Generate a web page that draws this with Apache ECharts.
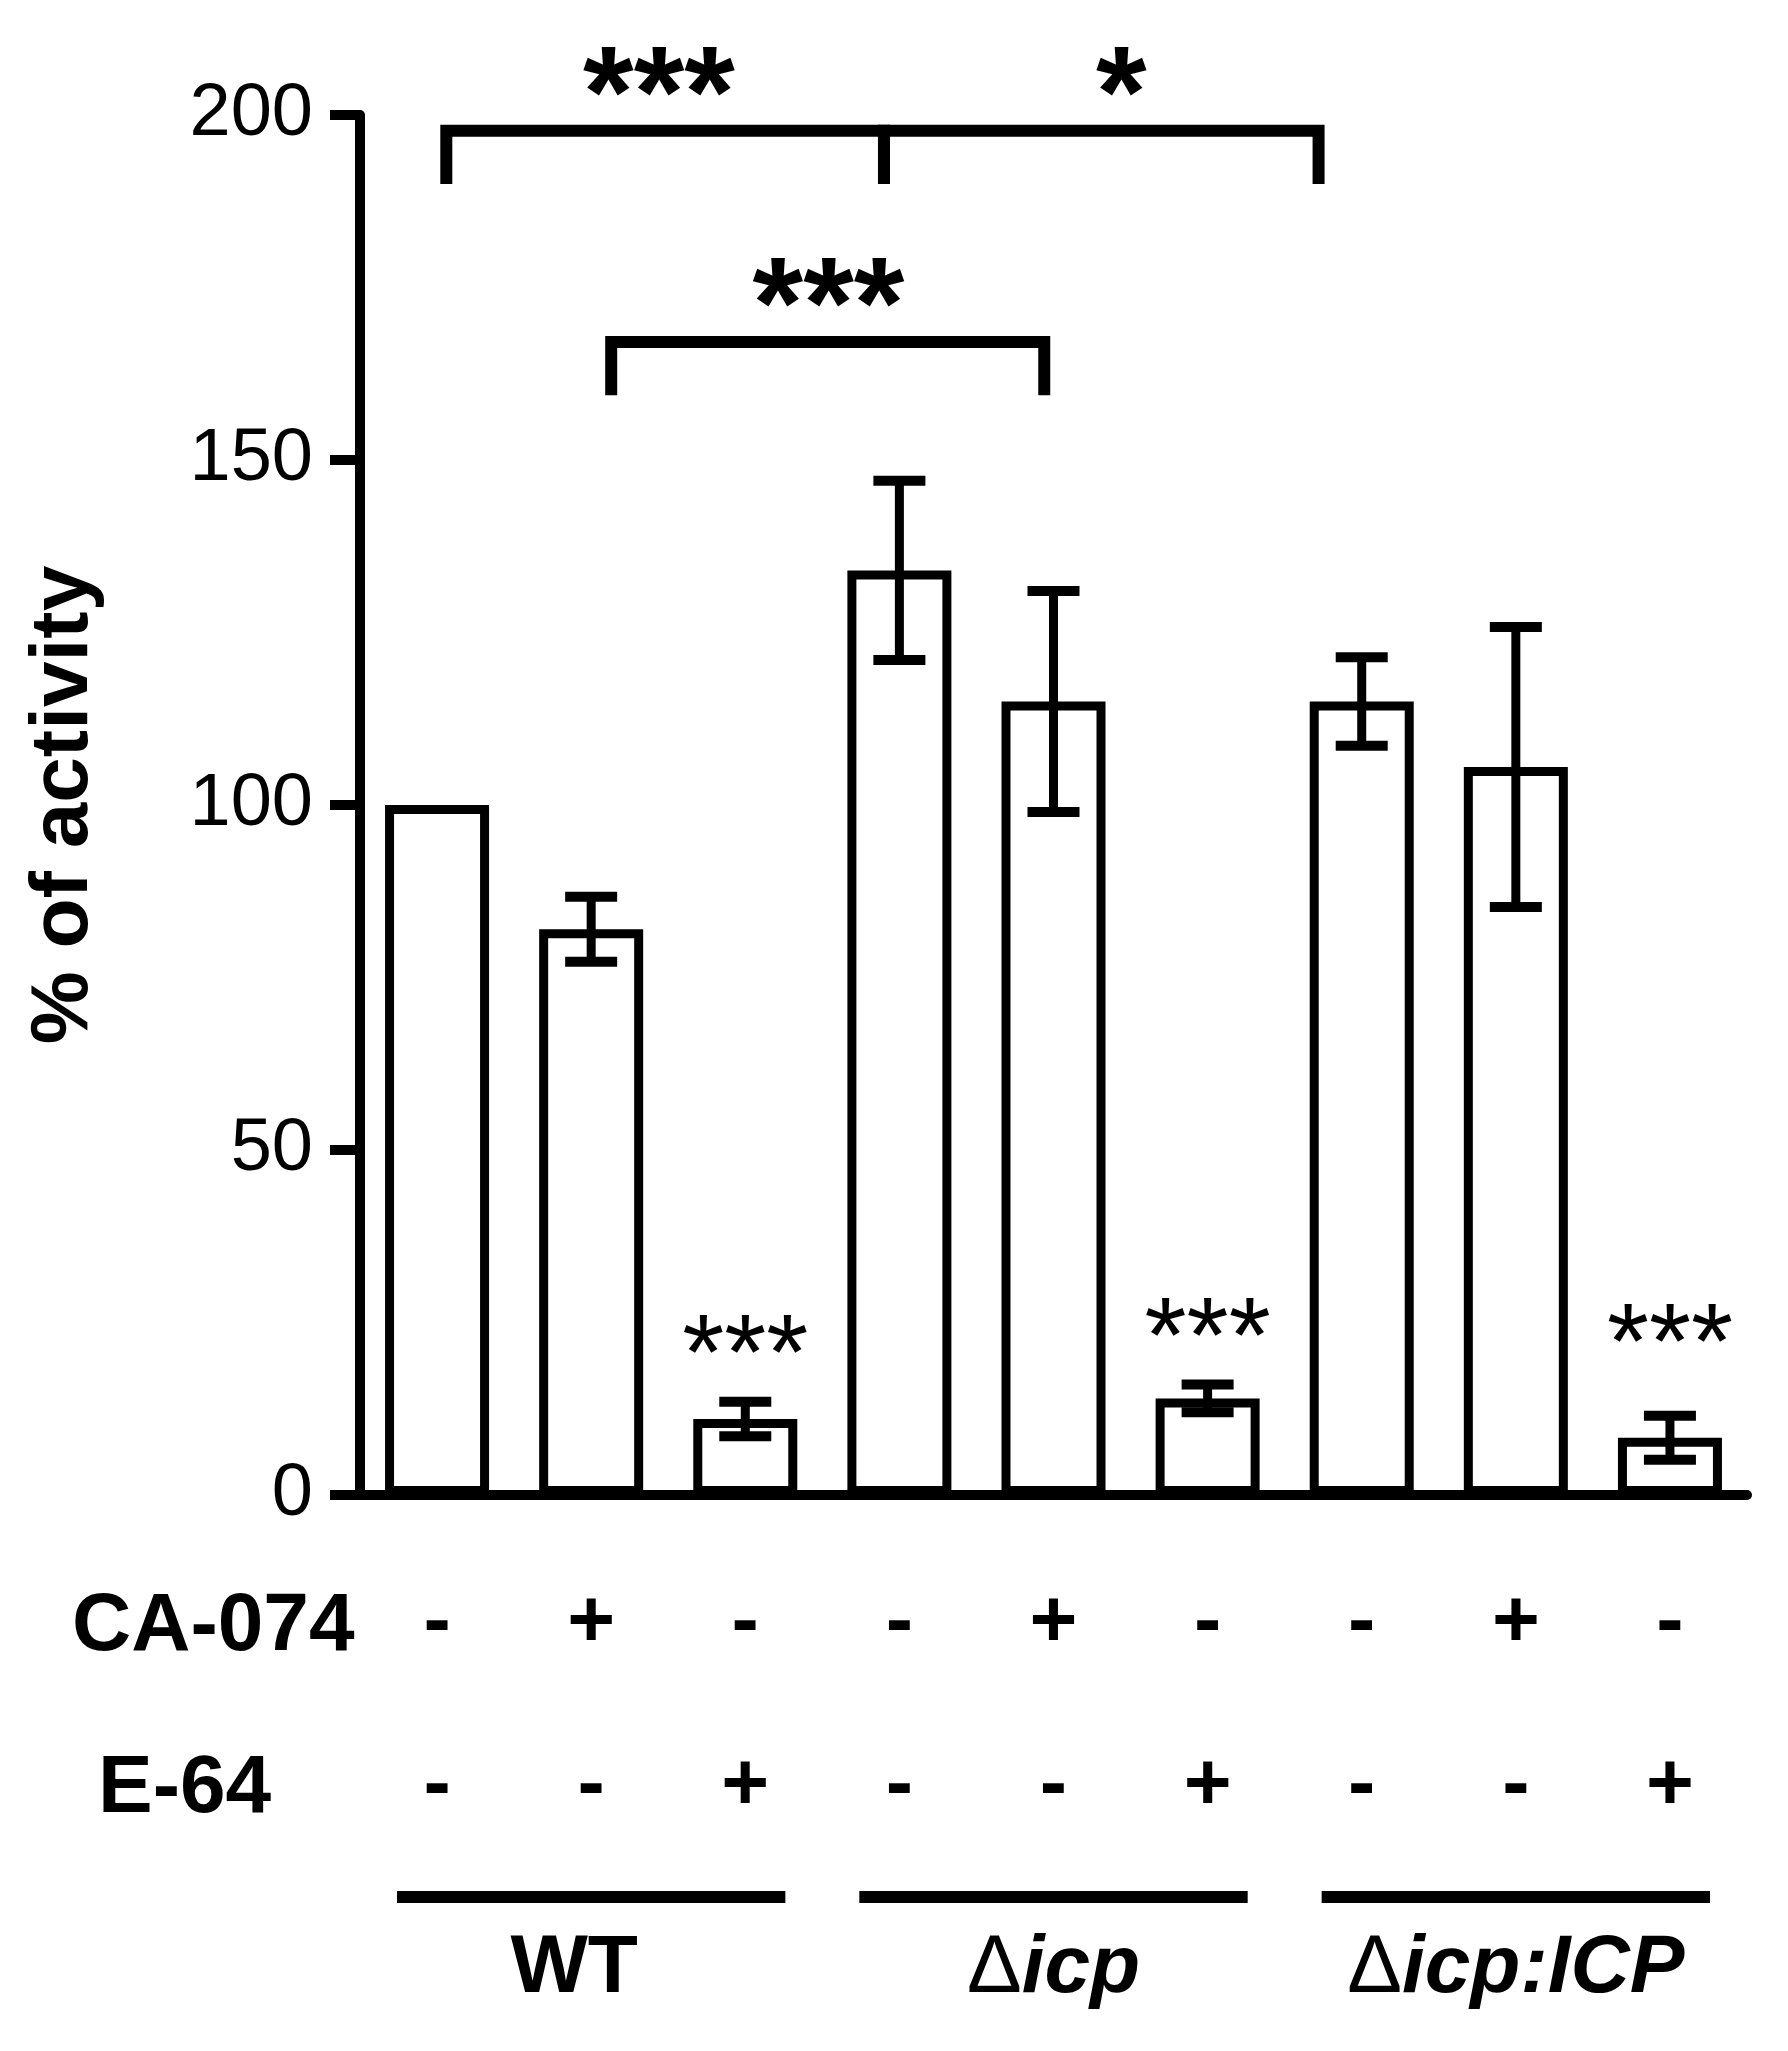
<!DOCTYPE html>
<html>
<head>
<meta charset="utf-8">
<script src="https://cdn.jsdelivr.net/npm/echarts@6/dist/echarts.min.js"></script>
<style>
  html, body { margin: 0; padding: 0; background: #fff; }
  #chart { width: 1788px; height: 2051px; }
</style>
</head>
<body>
<div id="chart"></div>
<script>
const FONT = '"Liberation Sans", Arial, Helvetica, sans-serif'

// strains and treatments, one bar each
const groups = ['WT', 'Δicp', 'Δicp:ICP']
const groupOfBar = [0, 0, 0, 1, 1, 1, 2, 2, 2]
const ca074 = ['-', '+', '-', '-', '+', '-', '-', '+', '-']
const e64 = ['-', '-', '+', '-', '-', '+', '-', '-', '+']

// % of activity (mean and error)
const activity = [100, 82, 11, 134, 115, 14, 115, 105.5, 8.3]
const sem = [0, 4.7, 2.5, 13, 16, 2, 6.4, 20.3, 3.2]
const yTicks = [0, 50, 100, 150, 200]

// stars above the E-64 bars (height in % units)
const sigBars = [2, 5, 8]
const sigText = ['***', '***', '***']
const sigLevel = [19.7, 22.2, 21.3]

// comparison brackets: ends in bar-index units, heights in % units
const bracketFrom = [0.06, 2.9, 1.13]
const bracketTo = [2.9, 5.72, 3.94]
const bracketTop = [197.7, 197.7, 167.1]
const bracketLeg = [190, 190, 159.4]
const bracketText = ['***', '*', '***']
const bracketTextAt = [1.44, 4.44, 2.54]

const categories = activity.map((v, i) => groups[groupOfBar[i]] + ' ' + ca074[i] + e64[i])

// first / last bar of each strain, for the lines under the sign rows
const groupSpans = groups.map((g, k) => {
  const idx = groupOfBar.map((gi, i) => (gi === k ? i : -1)).filter(i => i >= 0)
  return [idx[0], idx[idx.length - 1]]
})

const chart = echarts.init(document.getElementById('chart'))

const option = {
  animation: false,
  backgroundColor: '#fff',
  grid: { left: 360, right: 41, top: 115, bottom: 556, outerBoundsMode: 'none' },
  xAxis: [
    {
      type: 'category',
      data: categories,
      position: 'bottom',
      axisLine: { show: true, onZero: false, lineStyle: { color: '#000', width: 10 } },
      axisTick: { show: false },
      splitLine: { show: false },
      axisLabel: {
        interval: 0,
        margin: 47,
        formatter: (v, i) => `{s|${ca074[i]}}\n{s|${e64[i]}}`,
        rich: {
          s: { fontFamily: FONT, fontSize: 82, fontWeight: 'bold', lineHeight: 163, color: '#000' }
        }
      }
    },
    {
      // helper axis: bar index as a continuous value
      type: 'value',
      min: -0.5,
      max: 8.5,
      position: 'top',
      show: false
    },
    {
      type: 'category',
      data: groups,
      position: 'bottom',
      offset: 425,
      axisLine: { show: false },
      axisTick: { show: false },
      splitLine: { show: false },
      axisLabel: {
        interval: 0,
        margin: 8,
        formatter: v => (v.startsWith('Δ') ? `{d|Δ}{i|${v.slice(1)}}` : `{b|${v}}`),
        rich: {
          b: { fontFamily: FONT, fontSize: 82, fontWeight: 'bold', lineHeight: 82, color: '#000', padding: [0, 34, 0, 0] },
          d: { fontFamily: FONT, fontSize: 82, fontWeight: 'normal', lineHeight: 82, color: '#000' },
          i: { fontFamily: FONT, fontSize: 82, fontWeight: 'bold', fontStyle: 'italic', lineHeight: 82, color: '#000' }
        }
      }
    }
  ],
  yAxis: {
    type: 'value',
    min: yTicks[0],
    max: yTicks[yTicks.length - 1],
    interval: yTicks[1] - yTicks[0],
    name: '% of activity',
    nameLocation: 'middle',
    nameRotate: 90,
    nameGap: 255,
    nameTextStyle: { fontFamily: FONT, fontSize: 82, fontWeight: 'bold', color: '#000' },
    axisLine: { show: true, onZero: false, lineStyle: { color: '#000', width: 10 } },
    axisTick: { show: true, length: 30, lineStyle: { color: '#000', width: 10 } },
    axisLabel: { fontFamily: FONT, fontSize: 74, color: '#000', margin: 47 },
    splitLine: { show: false }
  },
  graphic: [
    { type: 'text', left: 72, top: 1586, style: { text: 'CA-074', font: `bold 82px ${FONT}`, fill: '#000' } },
    { type: 'text', left: 98, top: 1748, style: { text: 'E-64', font: `bold 82px ${FONT}`, fill: '#000' } }
  ],
  series: [
    {
      name: 'activity',
      type: 'bar',
      xAxisIndex: 0,
      yAxisIndex: 0,
      data: activity,
      barWidth: 104,
      silent: true,
      itemStyle: { color: '#fff', borderColor: '#000', borderWidth: 9 },
      z: 2
    },
    {
      name: 'error',
      type: 'custom',
      xAxisIndex: 0,
      yAxisIndex: 0,
      silent: true,
      clip: false,
      z: 3,
      data: activity.map((v, i) => [i, v - sem[i], v + sem[i]]).filter(d => d[2] > d[1]),
      renderItem: (params, api) => {
        const x = api.coord([api.value(0), 0])[0]
        const lo = api.coord([api.value(0), api.value(1)])[1]
        const hi = api.coord([api.value(0), api.value(2)])[1]
        const w = 26
        const st = { stroke: '#000', lineWidth: 10 }
        return {
          type: 'group',
          children: [
            { type: 'line', shape: { x1: x, y1: lo, x2: x, y2: hi }, style: { stroke: '#000', lineWidth: 9 } },
            { type: 'line', shape: { x1: x - w, y1: hi, x2: x + w, y2: hi }, style: st },
            { type: 'line', shape: { x1: x - w, y1: lo, x2: x + w, y2: lo }, style: st }
          ]
        }
      }
    },
    {
      name: 'stars',
      type: 'custom',
      xAxisIndex: 0,
      yAxisIndex: 0,
      silent: true,
      clip: false,
      z: 3,
      data: sigBars.map((b, k) => [b, sigLevel[k]]),
      renderItem: (params, api) => {
        const p = api.coord([api.value(0), api.value(1)])
        return {
          type: 'text',
          style: {
            text: sigText[params.dataIndex],
            x: p[0],
            y: p[1],
            font: `108px ${FONT}`,
            fill: '#000',
            align: 'center',
            verticalAlign: 'middle'
          }
        }
      }
    },
    {
      name: 'brackets',
      type: 'custom',
      xAxisIndex: 1,
      yAxisIndex: 0,
      silent: true,
      clip: false,
      z: 3,
      data: bracketFrom.map((f, k) => [f, bracketTo[k], bracketTop[k], bracketLeg[k], bracketTextAt[k]]),
      renderItem: (params, api) => {
        const a = api.coord([api.value(0), api.value(3)])
        const b = api.coord([api.value(0), api.value(2)])
        const c = api.coord([api.value(1), api.value(2)])
        const d = api.coord([api.value(1), api.value(3)])
        const t = api.coord([api.value(4), api.value(2)])
        return {
          type: 'group',
          children: [
            {
              type: 'polyline',
              shape: { points: [a, b, c, d] },
              style: { stroke: '#000', lineWidth: 12, fill: 'none', lineJoin: 'miter' }
            },
            {
              type: 'text',
              style: {
                text: bracketText[params.dataIndex],
                x: t[0],
                y: t[1] - 30,
                font: `bold 130px ${FONT}`,
                fill: '#000',
                align: 'center',
                verticalAlign: 'middle'
              }
            }
          ]
        }
      }
    },
    {
      name: 'groupLines',
      type: 'custom',
      xAxisIndex: 1,
      yAxisIndex: 0,
      silent: true,
      clip: false,
      data: groupSpans,
      renderItem: (params, api) => {
        const y = api.coord([0, 0])[1] + 402
        const x1 = api.coord([api.value(0) - 0.26, 0])[0]
        const x2 = api.coord([api.value(1) + 0.26, 0])[0]
        return { type: 'line', shape: { x1, y1: y, x2, y2: y }, style: { stroke: '#000', lineWidth: 12 } }
      }
    }
  ]
}

chart.setOption(option)
</script>
</body>
</html>
